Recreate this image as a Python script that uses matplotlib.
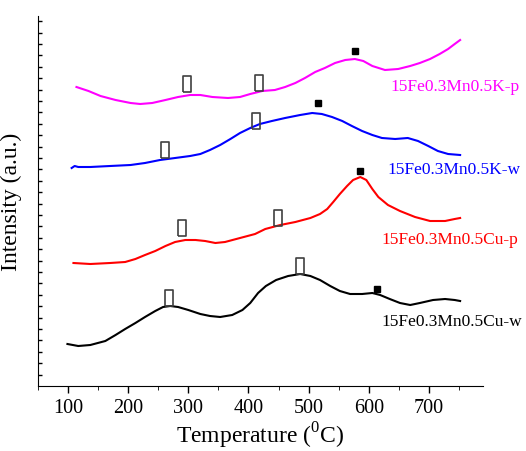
import matplotlib
matplotlib.use('Agg')
import matplotlib.pyplot as plt
import numpy as np

plt.rcParams['font.family'] = 'Liberation Serif'
plt.rcParams['mathtext.fontset'] = 'custom'
plt.rcParams['mathtext.rm'] = 'Liberation Serif'

# K-p (magenta)
kp_t = [114, 134, 154, 179, 204, 220, 240, 262, 283, 303, 320, 340, 366, 386,
        403, 423, 444, 461, 478, 494, 511, 527, 544, 561, 577, 591, 606, 627,
        649, 669, 685, 702, 718, 732, 743, 752]
kp_i = [299, 295, 290, 286, 283, 282, 283, 286, 289, 291, 291, 289, 288, 289,
        292, 295, 296, 299, 303, 308, 314, 318, 323, 326, 327, 325, 320, 316,
        317, 320, 323, 327, 332, 337, 342, 346]

# K-w (blue)
kw_t = [106, 111, 117, 137, 170, 204, 228, 253, 278, 303, 320, 336, 353, 370,
        386, 403, 419, 439, 461, 486, 506, 522, 539, 556, 572, 589, 606, 622,
        644, 665, 682, 699, 715, 732, 752]
kw_i = [218, 220, 219, 219, 220, 221, 223, 226, 228, 230, 232, 236, 241, 247,
        253, 258, 262, 265, 268, 271, 273, 272, 269, 265, 260, 255, 251, 248,
        247, 248, 245, 240, 235, 232, 231]

# Cu-p (red)
cp_t = [109, 137, 170, 195, 212, 228, 245, 262, 278, 295, 312, 328, 345, 361,
        386, 411, 428, 453, 478, 503, 519, 531, 541, 552, 564, 574, 586, 596,
        606, 616, 632, 652, 677, 702, 727, 743, 752]
cp_i = [123, 122, 123, 124, 127, 131, 135, 140, 144, 146, 146, 145, 143, 144,
        148, 152, 157, 161, 164, 168, 172, 177, 184, 192, 200, 206, 209, 206,
        197, 189, 181, 175, 169, 165, 165, 167, 168]

# Cu-w (black)
cw_t = [99, 117, 137, 162, 179, 195, 212, 228, 245, 258, 270, 283, 300, 320,
        336, 353, 373, 390, 403, 416, 429, 446, 466, 486, 503, 519, 536, 552,
        569, 589, 606, 619, 635, 652, 669, 685, 707, 727, 743, 752]
cw_i = [42, 40, 41, 45, 51, 57, 63, 69, 75, 79, 80, 79, 76, 72,
        70, 69, 71, 76, 83, 93, 100, 106, 110, 112, 110, 106, 100, 95,
        92, 92, 93, 91, 87, 83, 81, 83, 86, 87, 86, 85]

series = [
    (kp_t, kp_i, '#ff00ff', '15Fe0.3Mn0.5K-p', 636, 300),
    (kw_t, kw_i, '#0000ff', '15Fe0.3Mn0.5K-w', 631, 217),
    (cp_t, cp_i, '#ff0000', '15Fe0.3Mn0.5Cu-p', 622, 147),
    (cw_t, cw_i, 'black', '15Fe0.3Mn0.5Cu-w', 622, 65),
]

# open box annotations and filled squares
box_t = [298, 418, 262, 413, 290, 449, 268, 486]
box_i = [302, 303, 236, 265, 158, 168, 88, 120]
sq_t = [577, 516, 586, 614]
sq_i = [335, 283, 215, 97]

fig = plt.figure(figsize=(5.26, 4.52), dpi=100)
ax = fig.add_axes([0.0722, 0.1438, 0.846, 0.8186])

for t, i, c, name, lx, ly in series:
    ax.plot(t, i, color=c, lw=1.5)
    ax.text(lx, ly, name, color=c, fontsize=12.5, ha='left', va='center')

rect = [(-0.28, -0.5), (0.28, -0.5), (0.28, 0.5), (-0.28, 0.5), (-0.28, -0.5)]
ax.plot(box_t, box_i, ls='none', marker=rect, markersize=11.5,
        markerfacecolor='none', markeredgecolor='#404040', markeredgewidth=1.2)
ax.plot(sq_t, sq_i, ls='none', marker='s', markersize=5, color='black')

ax.set_xlim(50, 790)
ax.set_ylim(0, 370)
ax.set_xticks([100, 200, 300, 400, 500, 600, 700])
ax.set_xticks([50, 150, 250, 350, 450, 550, 650, 750], minor=True)
ax.set_yticks(np.arange(11.4, 370, 11.4))
ax.set_yticklabels([])
ax.tick_params(axis='x', direction='out', length=5, width=1, labelsize=14.5)
ax.tick_params(axis='x', which='minor', direction='out', length=3)
ax.tick_params(axis='y', direction='in', length=3, width=1)
for s in ['top', 'right']:
    ax.spines[s].set_visible(False)
ax.set_xlabel(r'Temperature ($^0$C)', fontsize=17, labelpad=2)
ax.set_ylabel('Intensity (a.u.)', fontsize=17, labelpad=8)

fig.savefig('out.png', dpi=100)
